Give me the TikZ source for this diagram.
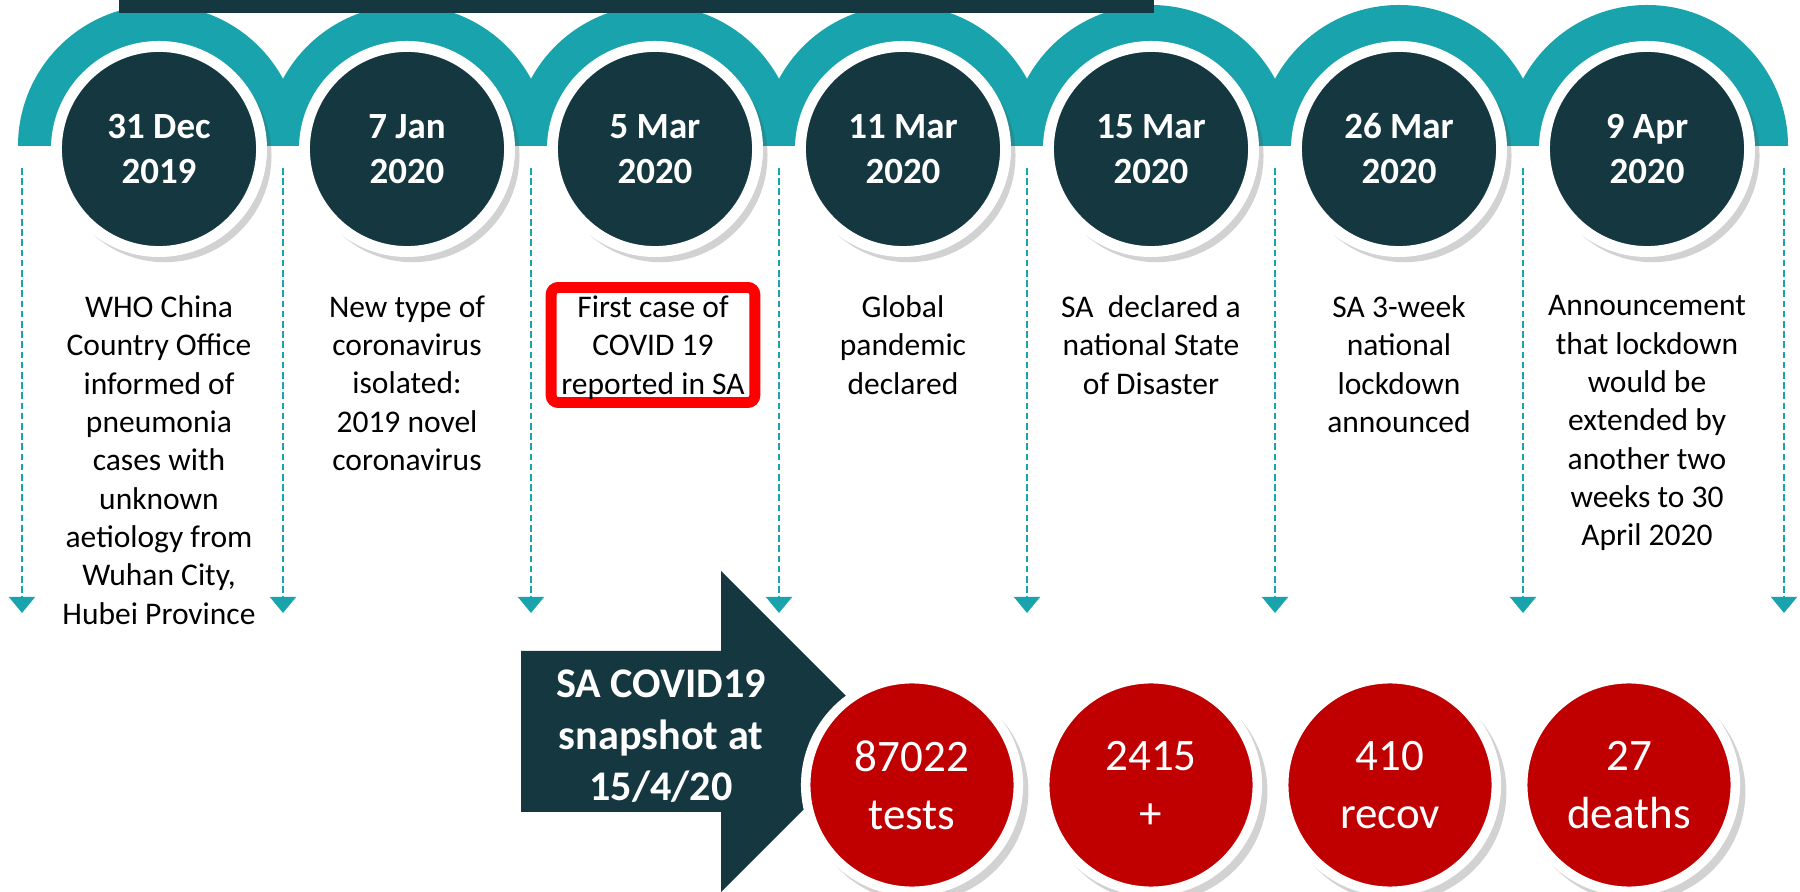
\documentclass[tikz,border=0pt]{standalone}
\usepackage{fontspec}
\setmainfont{Carlito}
\usepackage{tikz}
\usetikzlibrary{arrows.meta,shadows}

\definecolor{arcteal}{RGB}{25,163,172}
\definecolor{darkteal}{RGB}{21,55,64}
\definecolor{statred}{RGB}{192,0,0}

\tikzset{
  datecirc/.style={circle,fill=darkteal,draw=white,line width=3.1pt,minimum size=2.05cm,inner sep=0pt,
    text=white,align=center,font=\fontsize{10.5}{12.8}\selectfont\bfseries,
    drop shadow={shadow xshift=1.6pt,shadow yshift=-1.8pt,shadow scale=1.04,opacity=0.25,fill=black!70}},
  statcirc/.style={circle,fill=statred,draw=white,line width=2.7pt,minimum size=2.125cm,inner sep=0pt,
    text=white,align=center,font=\fontsize{12.8}{16.5}\selectfont,
    drop shadow={shadow xshift=1.6pt,shadow yshift=-1.8pt,shadow scale=1.04,opacity=0.25,fill=black!70}},
  desc/.style={anchor=north,align=center,inner sep=0pt,execute at begin node=\strut,
    font=\fontsize{8.96}{10.9}\selectfont},
  snaptext/.style={anchor=north,align=center,inner sep=0pt,execute at begin node=\strut,
    text=white,font=\fontsize{12}{14.7}\selectfont\bfseries},
  hlbox/.style={draw=red,line width=3.1pt,rounded corners=2pt,minimum width=2.035cm,minimum height=1.15cm},
  drop/.style={arcteal,line width=0.7pt,dash pattern=on 1.9pt off 1pt,-{Triangle[width=7.4pt,length=4.6pt]}}
}

\begin{document}
\begin{tikzpicture}[x=0.01cm,y=0.01cm]
\useasboundingbox (0,0) rectangle (1800,-892);
\fill[arcteal] (18,-146) arc[start angle=180,end angle=0,radius=141] -- cycle;
\fill[arcteal] (266,-146) arc[start angle=180,end angle=0,radius=141] -- cycle;
\fill[arcteal] (514,-146) arc[start angle=180,end angle=0,radius=141] -- cycle;
\fill[arcteal] (762,-146) arc[start angle=180,end angle=0,radius=141] -- cycle;
\fill[arcteal] (1010,-146) arc[start angle=180,end angle=0,radius=141] -- cycle;
\fill[arcteal] (1258,-146) arc[start angle=180,end angle=0,radius=141] -- cycle;
\fill[arcteal] (1506,-146) arc[start angle=180,end angle=0,radius=141] -- cycle;
\fill[darkteal] (119,0) rectangle (1154,-13);

\node[datecirc] (d1) at (159,-149) {31 Dec\\2019};
\node[datecirc] (d2) at (407,-149) {7 Jan\\2020};
\node[datecirc] (d3) at (655,-149) {5 Mar\\2020};
\node[datecirc] (d4) at (903,-149) {11 Mar\\2020};
\node[datecirc] (d5) at (1151,-149) {15 Mar\\2020};
\node[datecirc] (d6) at (1399,-149) {26 Mar\\2020};
\node[datecirc] (d7) at (1647,-149) {9 Apr\\2020};

\coordinate (t1) at (22,-168); \coordinate (b1) at (22,-613);
\coordinate (t2) at (283,-168); \coordinate (b2) at (283,-613);
\coordinate (t3) at (531,-168); \coordinate (b3) at (531,-613);
\coordinate (t4) at (779,-168); \coordinate (b4) at (779,-613);
\coordinate (t5) at (1027,-168); \coordinate (b5) at (1027,-613);
\coordinate (t6) at (1275,-168); \coordinate (b6) at (1275,-613);
\coordinate (t7) at (1523,-168); \coordinate (b7) at (1523,-613);
\coordinate (t8) at (1784,-168); \coordinate (b8) at (1784,-613);
\draw[drop] (t1) -- (b1);
\draw[drop] (t2) -- (b2);
\draw[drop] (t3) -- (b3);
\draw[drop] (t4) -- (b4);
\draw[drop] (t5) -- (b5);
\draw[drop] (t6) -- (b6);
\draw[drop] (t7) -- (b7);
\draw[drop] (t8) -- (b8);

\node[hlbox] (hl) at (653,-345) {};
\node[desc] (e1) at (159,-295) {WHO China\\Country Office\\informed of\\pneumonia\\cases with\\unknown\\aetiology from\\Wuhan City,\\Hubei Province};
\node[desc] (e2) at (407,-295) {New type of\\coronavirus\\isolated:\\2019 novel\\coronavirus};
\node[desc] (e3) at (653,-295) {First case of\\COVID 19\\reported in SA};
\node[desc] (e4) at (903,-295) {Global\\pandemic\\declared};
\node[desc] (e5) at (1151,-295) {SA\ \ declared a\\national State\\of Disaster};
\node[desc] (e6) at (1399,-295) {SA 3-week\\national\\lockdown\\announced};
\node[desc] (e7) at (1647,-295) {Announcement\\that lockdown\\would be\\extended by\\another two\\weeks to 30\\April 2020};

\fill[darkteal] (521,-651) -- (721,-651) -- (721,-571) -- (881.5,-731.5) -- (721,-892) -- (721,-812) -- (521,-812) -- cycle;
\node[snaptext] (snap) at (661,-669) {SA COVID19\\snapshot at\\15/4/20};

\node[statcirc] (tests) at (912,-785) {87022\\tests};
\node[statcirc] (cases) at (1151,-785) {2415\\+};
\node[statcirc] (recov) at (1390,-785) {410\\recov};
\node[statcirc] (deaths) at (1629,-785) {27\\deaths};
\end{tikzpicture}
\end{document}
